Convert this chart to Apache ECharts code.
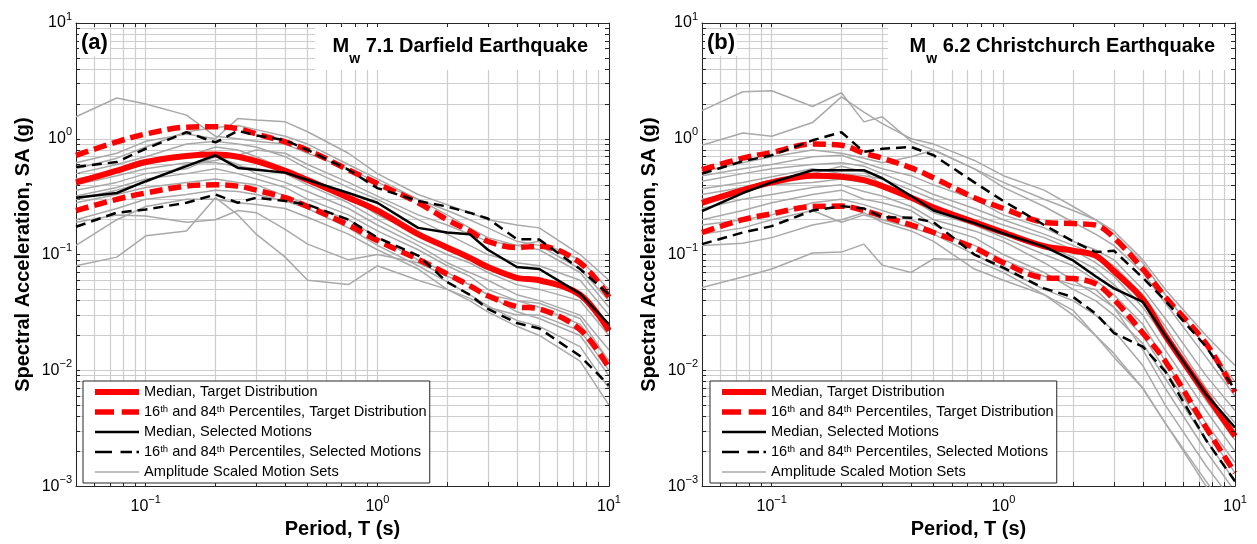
<!DOCTYPE html>
<html>
<head>
<meta charset="utf-8">
<script src="https://cdn.jsdelivr.net/npm/echarts@6/dist/echarts.min.js"></script>
<style>
  html, body { margin: 0; padding: 0; background: #fff; }
  #chart { width: 1257px; height: 544px; }
</style>
</head>
<body>
<div id="chart"></div>
<script>
// Spectral periods (s) at which every spectrum is given
const periods = [0.05, 0.075, 0.1, 0.15, 0.2, 0.25, 0.3, 0.4, 0.5, 0.75, 1, 1.5, 2, 2.5, 3, 4, 5, 7.5, 10];

// Log grid positions and labelled decades
const periodTicks = [0.05, 0.06, 0.07, 0.08, 0.09, 0.1, 0.2, 0.3, 0.4, 0.5, 0.6, 0.7, 0.8, 0.9,
  1, 2, 3, 4, 5, 6, 7, 8, 9, 10];
const saTicks = [0.001, 0.002, 0.003, 0.004, 0.005, 0.006, 0.007, 0.008, 0.009,
  0.01, 0.02, 0.03, 0.04, 0.05, 0.06, 0.07, 0.08, 0.09,
  0.1, 0.2, 0.3, 0.4, 0.5, 0.6, 0.7, 0.8, 0.9,
  1, 2, 3, 4, 5, 6, 7, 8, 9, 10];
const periodLabels = [0.1, 1, 10];
const saLabels = [0.001, 0.01, 0.1, 1, 10];

// (a) Mw 7.1 Darfield earthquake, SA (g)
const darfieldTargetMedian = [0.42, 0.53, 0.63, 0.71, 0.73, 0.70, 0.64, 0.53, 0.44, 0.31, 0.24, 0.15, 0.115, 0.094, 0.078, 0.063, 0.060, 0.045, 0.022];
const darfieldTarget84 = [0.72, 0.94, 1.10, 1.26, 1.27, 1.22, 1.10, 0.94, 0.80, 0.54, 0.41, 0.28, 0.20, 0.16, 0.13, 0.115, 0.118, 0.085, 0.043];
const darfieldTarget16 = [0.24, 0.30, 0.34, 0.39, 0.40, 0.39, 0.36, 0.31, 0.26, 0.18, 0.132, 0.091, 0.068, 0.054, 0.044, 0.0355, 0.034, 0.0225, 0.0105];
const darfieldSelectedMedian = [0.31, 0.34, 0.43, 0.58, 0.72, 0.56, 0.54, 0.51, 0.44, 0.34, 0.28, 0.17, 0.155, 0.15, 0.11, 0.078, 0.075, 0.046, 0.025];
const darfieldSelected84 = [0.57, 0.63, 0.82, 1.14, 0.93, 1.17, 1.07, 0.97, 0.80, 0.54, 0.375, 0.29, 0.26, 0.23, 0.205, 0.136, 0.135, 0.075, 0.045];
const darfieldSelected16 = [0.174, 0.23, 0.245, 0.28, 0.33, 0.28, 0.31, 0.29, 0.27, 0.20, 0.14, 0.098, 0.058, 0.045, 0.034, 0.0256, 0.023, 0.0133, 0.0074];
const darfieldMotionSets = [
  [1.55, 2.25, 2.0, 1.6, 1.05, 1.0, 0.95, 0.9, 0.75, 0.55, 0.42, 0.3, 0.24, 0.2, 0.17, 0.13, 0.12, 0.075, 0.04],
  [0.62, 0.75, 0.95, 1.1, 1.0, 1.5, 1.45, 1.4, 1.15, 0.75, 0.5, 0.33, 0.27, 0.23, 0.2, 0.18, 0.17, 0.1, 0.06],
  [0.55, 0.68, 0.85, 1.15, 1.25, 1.3, 1.2, 1.05, 0.9, 0.6, 0.45, 0.3, 0.22, 0.17, 0.14, 0.12, 0.13, 0.09, 0.05],
  [0.5, 0.6, 0.7, 0.9, 0.95, 0.9, 0.85, 0.7, 0.55, 0.38, 0.3, 0.2, 0.15, 0.12, 0.1, 0.085, 0.08, 0.06, 0.03],
  [0.45, 0.52, 0.6, 0.7, 0.85, 0.8, 0.7, 0.55, 0.45, 0.32, 0.22, 0.15, 0.11, 0.09, 0.075, 0.065, 0.06, 0.045, 0.025],
  [0.4, 0.48, 0.55, 0.62, 0.62, 0.58, 0.55, 0.5, 0.4, 0.28, 0.2, 0.13, 0.1, 0.085, 0.07, 0.055, 0.05, 0.04, 0.02],
  [0.36, 0.42, 0.5, 0.55, 0.7, 0.6, 0.5, 0.42, 0.35, 0.25, 0.18, 0.12, 0.085, 0.07, 0.06, 0.045, 0.04, 0.03, 0.015],
  [0.32, 0.38, 0.45, 0.5, 0.55, 0.5, 0.45, 0.38, 0.3, 0.22, 0.16, 0.11, 0.08, 0.065, 0.05, 0.04, 0.035, 0.025, 0.012],
  [0.28, 0.33, 0.38, 0.42, 0.45, 0.42, 0.4, 0.32, 0.27, 0.2, 0.14, 0.09, 0.07, 0.055, 0.045, 0.032, 0.028, 0.02, 0.009],
  [0.2, 0.25, 0.3, 0.33, 0.36, 0.35, 0.33, 0.29, 0.25, 0.17, 0.12, 0.08, 0.058, 0.045, 0.036, 0.027, 0.024, 0.016, 0.007],
  [0.19, 0.22, 0.215, 0.19, 0.2, 0.24, 0.23, 0.165, 0.123, 0.09, 0.1, 0.085, 0.065, 0.055, 0.045, 0.04, 0.038, 0.028, 0.012],
  [0.12, 0.2, 0.26, 0.3, 0.3, 0.28, 0.27, 0.25, 0.21, 0.15, 0.11, 0.075, 0.05, 0.04, 0.032, 0.024, 0.02, 0.012, 0.005],
  [0.08, 0.095, 0.145, 0.16, 0.31, 0.22, 0.15, 0.095, 0.06, 0.055, 0.08, 0.06, 0.05, 0.042, 0.035, 0.03, 0.03, 0.022, 0.01],
  [0.3, 0.36, 0.42, 0.6, 0.65, 0.72, 0.8, 0.75, 0.6, 0.42, 0.32, 0.22, 0.18, 0.15, 0.13, 0.12, 0.11, 0.07, 0.035]
];

// (b) Mw 6.2 Christchurch earthquake, SA (g)
const christchurchTargetMedian = [0.28, 0.36, 0.42, 0.48, 0.47, 0.44, 0.39, 0.31, 0.255, 0.19, 0.155, 0.118, 0.108, 0.098, 0.072, 0.041, 0.02, 0.0062, 0.0027];
const christchurchTarget84 = [0.54, 0.68, 0.76, 0.90, 0.88, 0.75, 0.68, 0.56, 0.46, 0.31, 0.25, 0.19, 0.185, 0.18, 0.14, 0.075, 0.043, 0.017, 0.0065];
const christchurchTarget16 = [0.155, 0.20, 0.225, 0.26, 0.262, 0.24, 0.215, 0.18, 0.155, 0.114, 0.085, 0.063, 0.062, 0.056, 0.041, 0.021, 0.012, 0.0032, 0.0013];
const christchurchSelectedMedian = [0.237, 0.34, 0.42, 0.535, 0.535, 0.535, 0.456, 0.32, 0.24, 0.187, 0.152, 0.117, 0.089, 0.065, 0.051, 0.039, 0.02, 0.0062, 0.0032];
const christchurchSelected84 = [0.50, 0.64, 0.72, 0.97, 1.14, 0.77, 0.82, 0.85, 0.72, 0.42, 0.29, 0.18, 0.13, 0.105, 0.108, 0.063, 0.04, 0.016, 0.0068];
const christchurchSelected16 = [0.123, 0.155, 0.176, 0.24, 0.262, 0.25, 0.21, 0.208, 0.19, 0.1, 0.077, 0.051, 0.043, 0.031, 0.021, 0.016, 0.0098, 0.0025, 0.0011];
const christchurchMotionSets = [
  [1.75, 2.55, 2.6, 1.9, 2.5, 1.4, 1.55, 0.95, 0.8, 0.55, 0.42, 0.3, 0.24, 0.2, 0.16, 0.09, 0.05, 0.02, 0.011],
  [0.88, 1.12, 1.05, 1.38, 2.3, 1.7, 1.35, 1.0, 0.9, 0.65, 0.48, 0.36, 0.26, 0.2, 0.15, 0.085, 0.045, 0.016, 0.008],
  [0.52, 0.62, 0.7, 0.8, 0.75, 0.68, 0.62, 0.7, 0.8, 0.55, 0.38, 0.26, 0.19, 0.15, 0.12, 0.07, 0.038, 0.013, 0.006],
  [0.48, 0.55, 0.6, 0.7, 0.72, 0.62, 0.55, 0.48, 0.4, 0.3, 0.22, 0.17, 0.13, 0.11, 0.09, 0.05, 0.028, 0.009, 0.0045],
  [0.43, 0.5, 0.55, 0.6, 0.62, 0.58, 0.5, 0.4, 0.33, 0.25, 0.2, 0.15, 0.12, 0.1, 0.08, 0.045, 0.024, 0.007, 0.0035],
  [0.37, 0.42, 0.47, 0.55, 0.5, 0.48, 0.45, 0.36, 0.3, 0.22, 0.18, 0.14, 0.11, 0.085, 0.065, 0.035, 0.019, 0.0055, 0.0025],
  [0.33, 0.38, 0.44, 0.5, 0.58, 0.52, 0.4, 0.32, 0.26, 0.2, 0.16, 0.12, 0.095, 0.075, 0.055, 0.03, 0.015, 0.0045, 0.002],
  [0.3, 0.35, 0.4, 0.42, 0.45, 0.42, 0.38, 0.3, 0.23, 0.18, 0.14, 0.1, 0.08, 0.06, 0.045, 0.025, 0.012, 0.0035, 0.0016],
  [0.25, 0.3, 0.33, 0.38, 0.4, 0.35, 0.32, 0.26, 0.2, 0.16, 0.13, 0.085, 0.06, 0.045, 0.035, 0.02, 0.01, 0.003, 0.0013],
  [0.2, 0.24, 0.28, 0.33, 0.36, 0.3, 0.28, 0.24, 0.18, 0.14, 0.1, 0.07, 0.05, 0.04, 0.03, 0.017, 0.0085, 0.0025, 0.0011],
  [0.18, 0.2, 0.22, 0.28, 0.3, 0.27, 0.24, 0.2, 0.16, 0.12, 0.09, 0.065, 0.055, 0.05, 0.035, 0.015, 0.007, 0.002, 0.0009],
  [0.15, 0.17, 0.2, 0.24, 0.19, 0.22, 0.2, 0.17, 0.15, 0.1, 0.075, 0.05, 0.04, 0.03, 0.022, 0.011, 0.005, 0.0015, 0.0007],
  [0.12, 0.125, 0.14, 0.18, 0.2, 0.23, 0.19, 0.16, 0.13, 0.075, 0.06, 0.045, 0.033, 0.02, 0.013, 0.007, 0.0035, 0.0011, 0.0005],
  [0.052, 0.064, 0.075, 0.103, 0.105, 0.123, 0.081, 0.07, 0.092, 0.09, 0.07, 0.045, 0.03, 0.02, 0.014, 0.007, 0.0035, 0.001, 0.0005]
];

const NAMES = {
  targetMedian: 'Median, Target Distribution',
  targetPct: '16th and 84th Percentiles, Target Distribution',
  selectedMedian: 'Median, Selected Motions',
  selectedPct: '16th and 84th Percentiles, Selected Motions',
  motions: 'Amplitude Scaled Motion Sets'
};

const FONT = '"Liberation Sans", Arial, Helvetica, sans-serif';
const GRID_LEFT = [76, 702];
const GRID_TOP = 23, GRID_W = 533, GRID_H = 468;

const STYLE = {
  motion: { color: '#a9a9a9', width: 1.5, type: 'solid' },
  targetMedian: { color: '#ff0000', width: 6, type: 'solid' },
  targetPct: { color: '#ff0000', width: 5.5, type: [13, 6] },
  selectedMedian: { color: '#000000', width: 2.5, type: 'solid' },
  selectedPct: { color: '#000000', width: 2.5, type: [10, 6] }
};

function toPoints(values) {
  return periods.map((t, i) => [t, values[i]]);
}

function spectrum(panel, name, values, style, z, smooth) {
  return {
    type: 'line',
    name: name,
    xAxisIndex: panel * 2,
    yAxisIndex: panel * 2,
    data: toPoints(values),
    symbol: 'none',
    showSymbol: false,
    smooth: smooth || false,
    silent: true,
    z: z,
    lineStyle: { color: style.color, width: style.width, type: style.type, cap: 'butt' },
    itemStyle: { color: style.color }
  };
}

function panelSeries(panel, d) {
  const list = d.motions.map(m => spectrum(panel, NAMES.motions, m, STYLE.motion, 2));
  list.push(spectrum(panel, NAMES.targetMedian, d.targetMedian, STYLE.targetMedian, 3, 0.35));
  list.push(spectrum(panel, NAMES.targetPct, d.target16, STYLE.targetPct, 3, 0.35));
  list.push(spectrum(panel, NAMES.targetPct, d.target84, STYLE.targetPct, 3, 0.35));
  list.push(spectrum(panel, NAMES.selectedMedian, d.selectedMedian, STYLE.selectedMedian, 4));
  list.push(spectrum(panel, NAMES.selectedPct, d.selected16, STYLE.selectedPct, 4));
  list.push(spectrum(panel, NAMES.selectedPct, d.selected84, STYLE.selectedPct, 4));
  return list;
}

function powerLabel(v) {
  const e = Math.round(Math.log10(v));
  return '{b|10}{e|' + (e < 0 ? '\u2212' + (-e) : String(e)) + '}';
}

const labelRich = {
  b: { fontSize: 16, lineHeight: 24, fontFamily: FONT, color: '#000' },
  e: { fontSize: 11, lineHeight: 12, verticalAlign: 'top', fontFamily: FONT, color: '#000' }
};

const axisLineStyle = { color: '#262626', width: 1 };
const gridLineStyle = { color: '#cdcdcd', width: 1.2 };

function axesFor(panel) {
  const xMain = {
    type: 'log', gridIndex: panel, position: 'bottom', min: 0.05, max: 10, logBase: 10,
    name: 'Period, T (s)', nameLocation: 'middle', nameGap: 29,
    nameTextStyle: { fontSize: 20, fontWeight: 'bold', fontFamily: FONT, color: '#000' },
    axisLine: { show: true, lineStyle: axisLineStyle },
    axisTick: { show: true, inside: true, length: 4, customValues: periodTicks, lineStyle: axisLineStyle },
    minorTick: { show: false },
    splitLine: { show: true, lineStyle: gridLineStyle },
    axisLabel: { show: true, margin: 8, customValues: periodLabels, formatter: powerLabel, rich: labelRich, color: '#000' },
    z: 1
  };
  const xTop = {
    type: 'log', gridIndex: panel, position: 'top', min: 0.05, max: 10, logBase: 10,
    axisLine: { show: true, onZero: false, lineStyle: axisLineStyle },
    axisTick: { show: true, inside: true, length: 4, customValues: periodTicks, lineStyle: axisLineStyle },
    splitLine: { show: false },
    axisLabel: { show: false },
    z: 10
  };
  const yMain = {
    type: 'log', gridIndex: panel, position: 'left', min: 0.001, max: 10, logBase: 10,
    name: 'Spectral Acceleration, SA (g)', nameLocation: 'middle', nameGap: 43,
    nameTextStyle: { fontSize: 20, fontWeight: 'bold', fontFamily: FONT, color: '#000' },
    axisLine: { show: true, lineStyle: axisLineStyle },
    axisTick: { show: true, inside: true, length: 4, customValues: saTicks, lineStyle: axisLineStyle },
    splitLine: { show: true, lineStyle: gridLineStyle },
    axisLabel: { show: true, margin: 4, customValues: saLabels, formatter: powerLabel, rich: labelRich, color: '#000' },
    z: 1
  };
  const yRight = {
    type: 'log', gridIndex: panel, position: 'right', min: 0.001, max: 10, logBase: 10,
    axisLine: { show: true, onZero: false, lineStyle: axisLineStyle },
    axisTick: { show: true, inside: true, length: 4, customValues: saTicks, lineStyle: axisLineStyle },
    splitLine: { show: false },
    axisLabel: { show: false },
    z: 10
  };
  return { x: [xMain, xTop], y: [yMain, yRight] };
}

// Event title: "M" with a lowered "w" subscript, then magnitude and name
function eventTitle(magnitude, label, textRight) {
  const big = { fontSize: 20, fontWeight: 'bold', lineHeight: 20, verticalAlign: 'top', fontFamily: FONT, color: '#000' };
  return {
    text: '{m|M}{w|w}{t| ' + magnitude + ' ' + label + '}',
    right: 1257 - textRight, top: 36,
    padding: 0,
    textStyle: {
      rich: {
        m: big, t: big,
        w: { fontSize: 14, fontWeight: 'bold', lineHeight: 30, verticalAlign: 'bottom', fontFamily: FONT, color: '#000' }
      }
    },
    z: 6
  };
}

function panelLetter(letter, left) {
  return {
    text: letter, left: left, top: 30,
    padding: [1, 2, 1, 2], backgroundColor: '#fff',
    textStyle: { fontSize: 22, fontWeight: 'bold', fontFamily: FONT, color: '#000', lineHeight: 24 },
    z: 6
  };
}

function panelLegend(left) {
  return {
    orient: 'vertical', left: left, top: 381,
    padding: [3, 3, 3, 9], itemGap: 4, itemWidth: 44, itemHeight: 14,
    backgroundColor: '#fff', borderColor: '#262626', borderWidth: 1, borderRadius: 0,
    selectedMode: false,
    data: [
      { name: NAMES.targetMedian, lineStyle: { width: 6, type: 'solid' } },
      { name: NAMES.targetPct, lineStyle: { width: 5.5, type: [19, 7.7] } },
      { name: NAMES.selectedMedian, lineStyle: { width: 2.5, type: 'solid' } },
      { name: NAMES.selectedPct, lineStyle: { width: 2.5, type: [17, 8.5, 11.5, 4.5, 2.5, 5] } },
      { name: NAMES.motions, lineStyle: { width: 1.3, type: 'solid' } }
    ],
    itemStyle: { opacity: 0 },
    lineStyle: { width: 'inherit' },
    formatter: name => name.replace(/(\d+)th/g, '$1{s|th}'),
    textStyle: {
      fontSize: 14.6, lineHeight: 16, fontFamily: FONT, color: '#000',
      rich: { s: { fontSize: 9.5, lineHeight: 8, verticalAlign: 'top', fontFamily: FONT, color: '#000' } }
    },
    z: 8
  };
}

const axA = axesFor(0), axB = axesFor(1);

const option = {
  animation: false,
  backgroundColor: '#fff',
  // white boxes behind the event titles, hiding the grid there
  graphic: [
    { type: 'rect', shape: { x: 315, y: GRID_TOP, width: GRID_LEFT[0] + GRID_W - 315, height: 47 }, style: { fill: '#fff' }, z: 5, silent: true },
    { type: 'rect', shape: { x: 888, y: GRID_TOP, width: GRID_LEFT[1] + GRID_W - 888, height: 47 }, style: { fill: '#fff' }, z: 5, silent: true }
  ],
  title: [
    eventTitle('7.1', 'Darfield Earthquake', 588),
    eventTitle('6.2', 'Christchurch Earthquake', 1215),
    panelLetter('(a)', 79),
    panelLetter('(b)', 705)
  ],
  legend: [panelLegend(83), panelLegend(710)],
  grid: [
    { left: GRID_LEFT[0], top: GRID_TOP, width: GRID_W, height: GRID_H, containLabel: false },
    { left: GRID_LEFT[1], top: GRID_TOP, width: GRID_W, height: GRID_H, containLabel: false }
  ],
  xAxis: [axA.x[0], axA.x[1], axB.x[0], axB.x[1]],
  yAxis: [axA.y[0], axA.y[1], axB.y[0], axB.y[1]],
  series: [].concat(
    panelSeries(0, {
      motions: darfieldMotionSets,
      targetMedian: darfieldTargetMedian, target16: darfieldTarget16, target84: darfieldTarget84,
      selectedMedian: darfieldSelectedMedian, selected16: darfieldSelected16, selected84: darfieldSelected84
    }),
    panelSeries(1, {
      motions: christchurchMotionSets,
      targetMedian: christchurchTargetMedian, target16: christchurchTarget16, target84: christchurchTarget84,
      selectedMedian: christchurchSelectedMedian, selected16: christchurchSelected16, selected84: christchurchSelected84
    })
  )
};

const chart = echarts.init(document.getElementById('chart'), null, { renderer: 'canvas' });
chart.setOption(option);
</script>
</body>
</html>
